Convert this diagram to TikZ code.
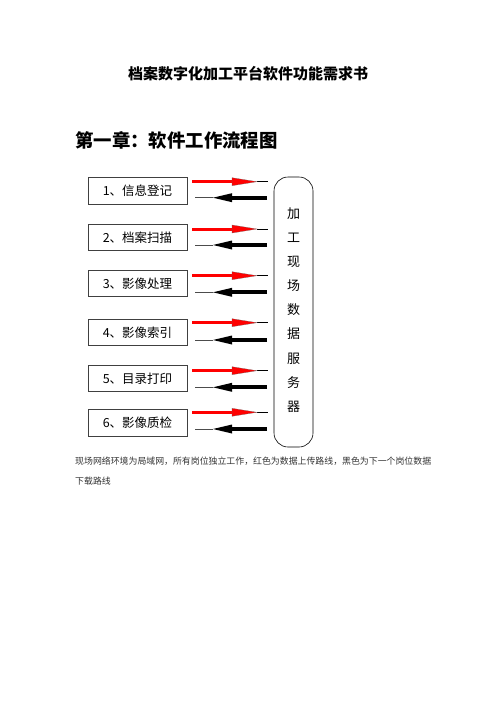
\documentclass[tikz,border=0pt]{standalone}
\usepackage{fontspec}
\usetikzlibrary{calc}
\newfontfamily\cjk{Noto Sans CJK SC}
\begin{document}
\begin{tikzpicture}[x=1pt,y=-1pt,
  stepbox/.style={draw=black!75,line width=0.7pt,minimum width=99pt,minimum height=26.5pt,inner sep=0pt,font=\cjk\fontsize{12.5}{14}\selectfont},
  redhead/.style={fill=red,draw=black!60,line width=0.2pt},
  blackhead/.style={fill=black},
  captext/.style={anchor=west,inner sep=0pt,text=black!80,font=\cjk\fontsize{8.9}{10}\selectfont},
  server/.style={draw=black,line width=0.6pt,rounded corners=14pt,minimum width=39pt,minimum height=270pt,inner sep=0pt}]
\useasboundingbox (0,0) rectangle (496,702);
\fill[white] (0,0) rectangle (496,702);
\node[font=\cjk\bfseries\fontsize{15}{18}\selectfont] (title) at (248,74) {档案数字化加工平台软件功能需求书};
\node[anchor=west,inner sep=0pt,font=\cjk\bfseries\fontsize{18.4}{22}\selectfont] (heading) at (75,140) {第一章：软件工作流程图};
\node[server] (srv) at (293.5,312) {};
\node[align=center,inner sep=0pt,font=\cjk\fontsize{13}{24.1}\selectfont] (srvtext) at (293.5,310) {加\\工\\现\\场\\数\\据\\服\\务\\器};
\foreach \i/\t/\yc/\yr/\yb in {1/1、信息登记/191/181.7/197.7, 2/2、档案扫描/237.5/229/245, 3/3、影像处理/283.5/275.7/292.3, 4/4、影像索引/332.5/322.7/340, 5/5、目录打印/378.5/370.7/387.3, 6/6、影像质检/423/412.3/429}{
  \node[stepbox] (b\i) at (137.5,\yc) {\t};
  \coordinate (rs\i) at (192,\yr);
  \coordinate (rm\i) at (232,\yr);
  \coordinate (rt\i) at (257,\yr);
  \coordinate (re\i) at (268,\yr);
  \coordinate (bs\i) at (267,\yb);
  \coordinate (bm\i) at (232,\yb);
  \coordinate (bt\i) at (213,\yb);
  \coordinate (be\i) at (195,\yb);
  \draw[red,line width=3pt] (rs\i) -- (rm\i);
  \draw[black,line width=0.8pt] (rt\i) -- (re\i);
  \path[redhead] ($(rm\i)+(0,-4)$) -- (rt\i) -- ($(rm\i)+(0,4)$) -- cycle;
  \draw[black,line width=4pt] (bs\i) -- (bm\i);
  \draw[black!70,line width=0.8pt] (bt\i) -- (be\i);
  \path[blackhead] ($(bm\i)+(0,-4.5)$) -- (bt\i) -- ($(bm\i)+(0,4.5)$) -- cycle;
}
\node[captext] (cap1) at (75,461) {现场网络环境为局域网，所有岗位独立工作，红色为数据上传路线，黑色为下一个岗位数据};
\node[captext] (cap2) at (75,481) {下载路线};
\end{tikzpicture}
\end{document}
